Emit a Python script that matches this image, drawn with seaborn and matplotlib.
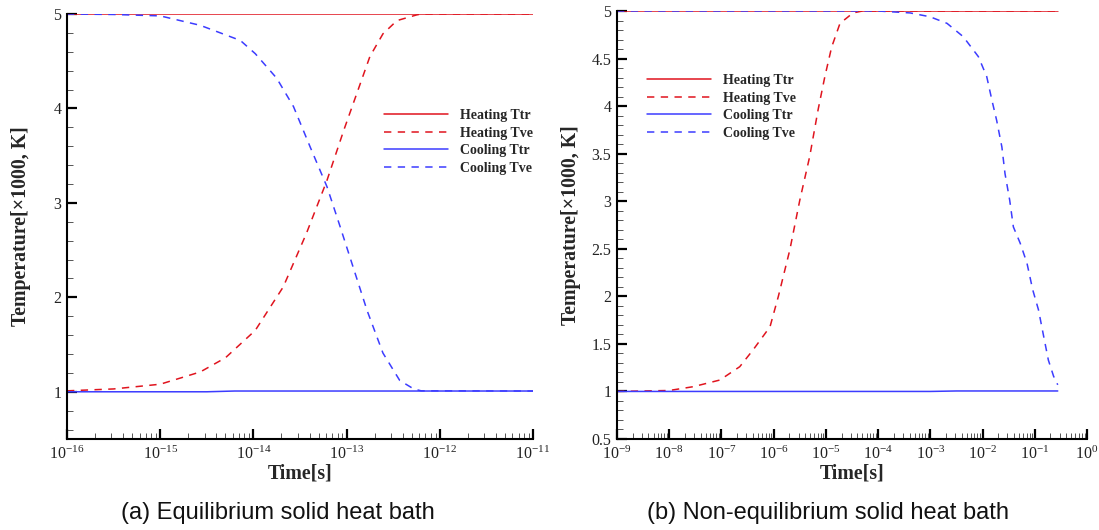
import numpy as np
import pandas as pd
import matplotlib
matplotlib.use("Agg")
import matplotlib.pyplot as plt
from matplotlib.ticker import LogLocator, MultipleLocator, FixedLocator, FormatStrFormatter, LogFormatterMathtext, NullFormatter
import seaborn as sns

# ---------------- data (log10 of time [s], temperature [x1000 K]) ----------------
# Panel (a): equilibrium solid heat bath
a_heat_ttr_logt = [-16.0, -11.0]
a_heat_ttr_T = [5.0, 5.0]
a_heat_tve_logt = [-16.0, -15.5, -15.0, -14.57, -14.3, -13.98, -13.68, -13.43, -13.21,
                   -13.03, -12.89, -12.75, -12.61, -12.46, -12.25, -12.2, -11.0]
a_heat_tve_T = [1.01, 1.03, 1.08, 1.21, 1.36, 1.65, 2.11, 2.68, 3.24,
                3.77, 4.16, 4.55, 4.79, 4.93, 4.99, 5.0, 5.0]
a_cool_ttr_logt = [-16.0, -14.5, -14.2, -11.0]
a_cool_ttr_T = [1.0, 1.0, 1.008, 1.008]
a_cool_tve_logt = [-16.0, -15.5, -15.0, -14.57, -14.14, -13.98, -13.75, -13.57, -13.39,
                   -13.21, -13.07, -12.93, -12.78, -12.61, -12.43, -12.28, -12.2, -11.0]
a_cool_tve_T = [5.0, 4.995, 4.98, 4.88, 4.72, 4.58, 4.32, 4.02, 3.59,
                3.17, 2.75, 2.32, 1.86, 1.41, 1.12, 1.03, 1.01, 1.008]

# Panel (b): non-equilibrium solid heat bath
b_heat_ttr_logt = [-9.0, -0.56]
b_heat_ttr_T = [5.0, 5.0]
b_heat_tve_logt = [-9.0, -8.0, -7.54, -7.03, -6.65, -6.39, -6.07, -5.91, -5.69, -5.50,
                   -5.31, -5.15, -5.02, -4.89, -4.73, -4.48, -4.3, -0.56]
b_heat_tve_T = [1.0, 1.01, 1.05, 1.12, 1.26, 1.44, 1.68, 2.0, 2.49, 3.01,
                3.47, 3.96, 4.31, 4.62, 4.87, 4.98, 5.0, 5.0]
b_cool_ttr_logt = [-9.0, -3.0, -2.5, -0.56]
b_cool_ttr_T = [1.0, 1.0, 1.005, 1.005]
b_cool_tve_logt = [-9.0, -4.0, -3.39, -3.01, -2.68, -2.37, -2.08, -1.92, -1.82, -1.73,
                   -1.63, -1.57, -1.48, -1.41, -1.28, -1.15, -1.04, -0.93, -0.83, -0.74,
                   -0.64, -0.56]
b_cool_tve_T = [5.0, 5.0, 4.98, 4.94, 4.87, 4.73, 4.52, 4.31, 4.06, 3.85,
                3.57, 3.29, 3.01, 2.73, 2.56, 2.35, 2.07, 1.86, 1.58, 1.33,
                1.16, 1.07]

series_names = ["Heating Ttr", "Heating Tve", "Cooling Ttr", "Cooling Tve"]
captions = ["(a) Equilibrium solid heat bath", "(b) Non-equilibrium solid heat bath"]
xlabel = "Time[s]"
ylabel = "Temperature[\u00d71000, K]"

RED = "#e0141e"
BLUE = "#3c3cff"
styles = {
    "Heating Ttr": dict(color=RED, ls="-"),
    "Heating Tve": dict(color=RED, ls=(0, (4.8, 4.2))),
    "Cooling Ttr": dict(color=BLUE, ls="-"),
    "Cooling Tve": dict(color=BLUE, ls=(0, (4.8, 4.2))),
}

sns.set_style("white")
plt.rcParams["font.family"] = ["Liberation Serif", "DejaVu Serif"]
plt.rcParams["mathtext.fontset"] = "custom"
plt.rcParams["mathtext.rm"] = "Liberation Serif"
plt.rcParams["mathtext.it"] = "Liberation Serif:italic"
plt.rcParams["mathtext.bf"] = "Liberation Serif:bold"


def make_df(logt, T, name):
    return pd.DataFrame({"time": 10.0 ** np.asarray(logt), "T": T, "series": name})


fig = plt.figure(figsize=(10.99, 5.30), dpi=100)
axA = fig.add_axes([67 / 1099, 1 - 439 / 530, 466 / 1099, 425 / 530])
axB = fig.add_axes([617 / 1099, 1 - 439 / 530, 470 / 1099, 428 / 530])

panelA = [(a_heat_ttr_logt, a_heat_ttr_T), (a_heat_tve_logt, a_heat_tve_T),
          (a_cool_ttr_logt, a_cool_ttr_T), (a_cool_tve_logt, a_cool_tve_T)]
panelB = [(b_heat_ttr_logt, b_heat_ttr_T), (b_heat_tve_logt, b_heat_tve_T),
          (b_cool_ttr_logt, b_cool_ttr_T), (b_cool_tve_logt, b_cool_tve_T)]

for ax, panel in [(axA, panelA), (axB, panelB)]:
    for name, (lt, T) in zip(series_names, panel):
        df = make_df(lt, T, name)
        st = styles[name]
        sns.lineplot(data=df, x="time", y="T", ax=ax, color=st["color"],
                     linestyle=st["ls"], lw=1.1, label=name, sort=False,
                     estimator=None)

# axes formatting
for ax, xlim, ylim, ymaj in [(axA, (1e-16, 1e-11), (0.5, 5), 1.0),
                             (axB, (1e-9, 1.0), (0.5, 5), 0.5)]:
    ax.set_xscale("log")
    ax.set_xlim(*xlim)
    ax.set_ylim(*ylim)
    ax.xaxis.set_major_locator(LogLocator(base=10, numticks=20))
    ax.xaxis.set_minor_locator(LogLocator(base=10, subs=np.arange(2, 10), numticks=200))
    ax.xaxis.set_major_formatter(LogFormatterMathtext())
    ax.xaxis.set_minor_formatter(NullFormatter())
    if ymaj == 1.0:
        ax.yaxis.set_major_locator(FixedLocator([1, 2, 3, 4, 5]))
        ax.yaxis.set_minor_locator(MultipleLocator(0.2))
    else:
        ax.yaxis.set_major_locator(MultipleLocator(0.5))
        ax.yaxis.set_minor_locator(MultipleLocator(0.1))
    ax.yaxis.set_major_formatter(FormatStrFormatter("%g"))
    for s in ["top", "right"]:
        ax.spines[s].set_visible(False)
    for s in ["left", "bottom"]:
        ax.spines[s].set_color("black")
        ax.spines[s].set_linewidth(1.5)
    ax.tick_params(which="both", left=True, bottom=True, top=False, right=False)
    ax.tick_params(which="major", direction="in", length=7.5, width=1.6,
                   color="black", labelsize=11.5, pad=4, labelcolor="#222222")
    ax.tick_params(which="minor", direction="in", length=4.0, width=0.7, color="#555555")
    ax.tick_params(axis="x", which="major", pad=5)
    ax.set_xlabel(xlabel, fontsize=14.3, fontweight="bold")
    ax.set_ylabel(ylabel, fontsize=14.3, fontweight="bold")
    ax.xaxis.set_label_coords(0.5, -0.057)
    ax.set_facecolor("white")

axA.yaxis.set_label_coords(-0.078, 0.5)
axB.yaxis.set_label_coords(-0.077, 0.5)

leg_kw = dict(frameon=False, loc="upper left", borderpad=0, borderaxespad=0,
              handlelength=4.6, handletextpad=0.9, labelspacing=0.32,
              prop=dict(family=["Liberation Serif"], weight="bold", size=10))
axA.legend(bbox_to_anchor=(0.680, 0.776), **leg_kw)
axB.legend(bbox_to_anchor=(0.064, 0.852), **leg_kw)

fig.text(278 / 1099, 1 - 513 / 530, captions[0], ha="center", va="center",
         fontsize=17, family=["Liberation Sans", "DejaVu Sans"], color="#111111")
fig.text(828 / 1099, 1 - 513 / 530, captions[1], ha="center", va="center",
         fontsize=17, family=["Liberation Sans", "DejaVu Sans"], color="#111111")

fig.savefig("out.png", dpi=100, facecolor="white")
